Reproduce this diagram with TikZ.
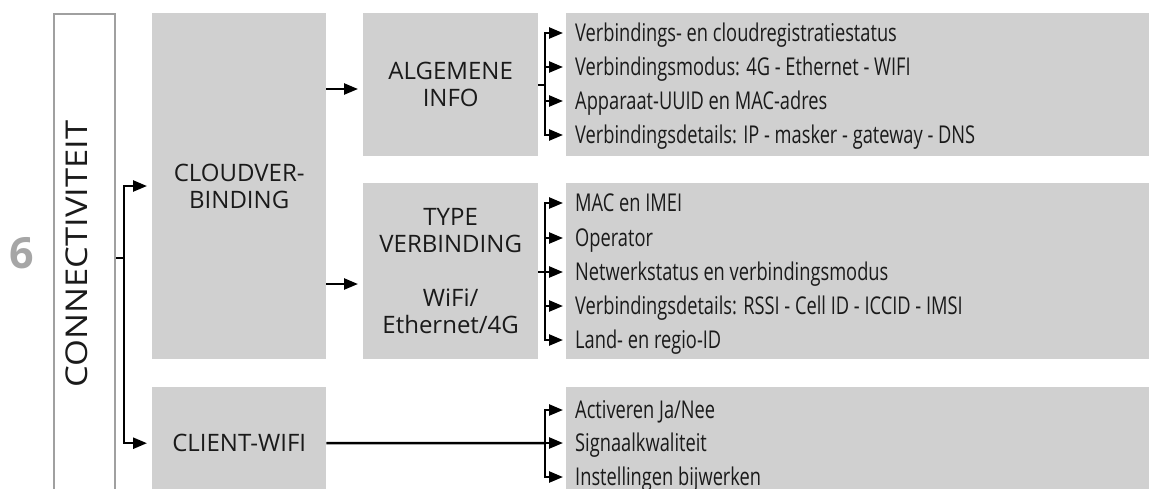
\documentclass[tikz,border=0pt]{standalone}
\usepackage{fontspec}
\setmainfont{Open Sans}
\newfontfamily\listfont[FakeStretch=0.745]{Open Sans}
\newfontfamily\titlefont[FakeStretch=1.15]{Open Sans}
\usetikzlibrary{arrows.meta}
\definecolor{boxgray}{RGB}{208,208,208}
\definecolor{framegray}{RGB}{160,160,160}
\definecolor{numgray}{RGB}{166,166,166}
\definecolor{ink}{RGB}{26,26,26}
\begin{document}
\begin{tikzpicture}[x=1pt,y=-1pt,
  box/.style={fill=boxgray, draw=none, inner sep=0pt, anchor=north west, align=center,
    text=ink, font=\fontsize{24}{27}\selectfont},
  item/.style={anchor=west, inner sep=0pt, text height=17.5pt, text depth=0pt,
    text=ink, font=\listfont\fontsize{24.5}{27}\selectfont},
  wire/.style={line width=2.5pt, black},
  arr/.style={wire, -{Triangle[length=14pt,width=11pt]}},
  arrs/.style={arr, shorten >=12pt}]
\useasboundingbox (0,0) rectangle (1149,488);
\clip (0,0) rectangle (1149,488);

% frame and title
\node[draw=framegray, line width=2pt, anchor=north west, minimum width=61pt, minimum height=520pt, inner sep=0pt] (frame) at (53,13) {};
\node[rotate=90, text=ink, font=\titlefont\fontsize{30}{30}\selectfont, inner sep=0pt] (title) at (77,254) {CONNECTIVITEIT};
\node[text=numgray, font=\fontsize{43}{43}\selectfont\bfseries, inner sep=0pt] (num) at (22,253) {6};

% boxes
\node[box, minimum width=174pt, minimum height=346pt] (cloud) at (152,13) {CLOUDVER-\\BINDING};
\node[box, minimum width=174pt, minimum height=112pt] (client) at (152,387) {CLIENT-WIFI};
\node[box, minimum width=175pt, minimum height=143pt] (algem) at (363,13) {ALGEMENE\\INFO};
\node[box, minimum width=175pt, minimum height=176pt] (typev) at (363,183) {TYPE\\VERBINDING\\[27pt]WiFi/\\Ethernet/4G};
\node[box, minimum width=600pt, minimum height=143pt] (list1) at (566,13) {};
\node[box, minimum width=600pt, minimum height=176pt] (list2) at (566,183) {};
\node[box, minimum width=600pt, minimum height=112pt] (list3) at (566,387) {};

% items
\node[item] (i11) at (575,33) {Verbindings- en cloudregistratiestatus};
\node[item] (i12) at (575,67) {Verbindingsmodus: 4G - Ethernet - WIFI};
\node[item] (i13) at (575,101) {Apparaat-UUID en MAC-adres};
\node[item] (i14) at (575,135) {Verbindingsdetails: IP - masker - gateway - DNS};
\node[item] (i21) at (575,203) {MAC en IMEI};
\node[item] (i22) at (575,238) {Operator};
\node[item] (i23) at (575,272) {Netwerkstatus en verbindingsmodus};
\node[item] (i24) at (575,306) {Verbindingsdetails: RSSI - Cell ID - ICCID - IMSI};
\node[item] (i25) at (575,340) {Land- en regio-ID};
\node[item] (i31) at (575,410) {Activeren Ja/Nee};
\node[item] (i32) at (575,443) {Signaalkwaliteit};
\node[item] (i33) at (575,477) {Instellingen bijwerken};

% junctions
\coordinate (fj) at (124,258);
\coordinate (b1) at (545,85);
\coordinate (b2) at (545,272);
\coordinate (b3) at (545,443);

% frame connectors
\draw[wire] (frame.east |- fj) -- (fj);
\draw[arr, shorten >=5pt] (fj) |- (cloud.west |- 0,186);
\draw[arr, shorten >=5pt] (fj) |- (client.west);

% cloud connectors
\draw[arr, shorten >=5pt] (cloud.east |- 0,89) -- (algem.west |- 0,89);
\draw[arr, shorten >=5pt] (cloud.east |- 0,284) -- (typev.west |- 0,284);

% brackets
\draw[wire] (algem.east |- b1) -- (b1);
\foreach \n in {i11,i12,i13,i14} \draw[arrs] (b1) |- (\n.west);
\draw[wire] (typev.east |- b2) -- (b2);
\foreach \n in {i21,i22,i23,i24,i25} \draw[arrs] (b2) |- (\n.west);
\draw[wire] (client.east) -- (b3);
\foreach \n in {i31,i32,i33} \draw[arrs] (b3) |- (\n.west);
\end{tikzpicture}
\end{document}
